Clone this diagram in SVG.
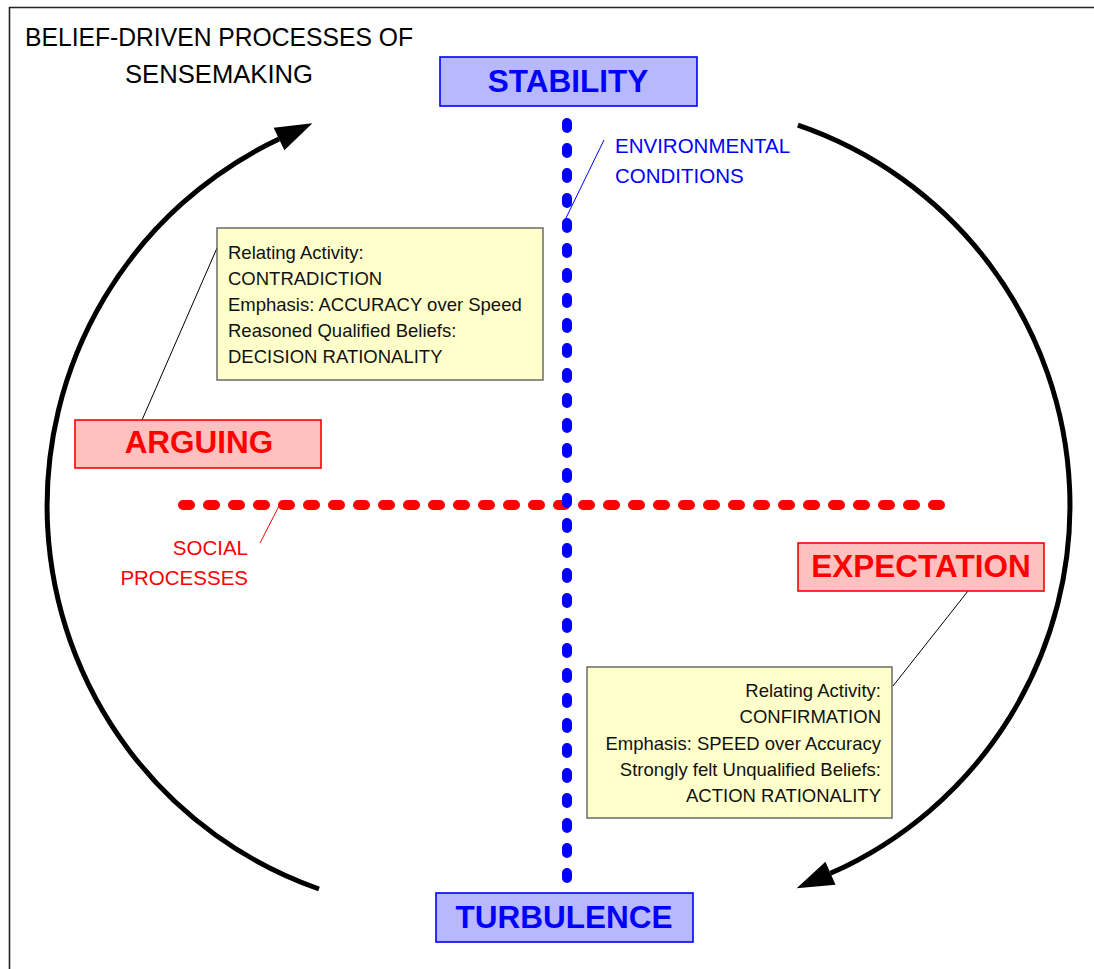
<svg xmlns="http://www.w3.org/2000/svg" width="1094" height="969" viewBox="0 0 1094 969">
  <style>
    text { font-family: "Liberation Sans", Arial, sans-serif; }
    .frame { fill: none; stroke: #222; stroke-width: 1.6; }
    .axisBox { fill: #b8b8ff; stroke: #0000ff; stroke-width: 1.6; }
    .axisText { fill: #0000ff; font-size: 31.5px; font-weight: bold; text-anchor: middle; }
    .modeBox { fill: #ffc0c0; stroke: #ff0000; stroke-width: 1.6; }
    .modeText { fill: #ff0000; font-size: 31.5px; font-weight: bold; text-anchor: middle; }
    .note { fill: #ffffcc; stroke: #555; stroke-width: 1.3; }
    .noteText { fill: #111; font-size: 18.5px; }
    .cycle { fill: none; stroke: #000; stroke-width: 5; }
    .leader { fill: none; stroke: #000; stroke-width: 1; }
  </style>
  <defs>
    <marker id="head" markerUnits="userSpaceOnUse" markerWidth="40" markerHeight="28" refX="0" refY="12.5" orient="auto" overflow="visible">
      <path d="M0,0 L37,12.5 L0,25 z" fill="#000"/>
    </marker>
  </defs>

  <rect width="1094" height="969" fill="#fff"/>
  <path class="frame" d="M9.5,969 V7.5 H1094"/>

  <g id="title">
    <text x="219" y="46" font-size="26.5" text-anchor="middle" fill="#000" textLength="388" lengthAdjust="spacingAndGlyphs">BELIEF-DRIVEN PROCESSES OF</text>
    <text x="219" y="83" font-size="26.5" text-anchor="middle" fill="#000" textLength="188" lengthAdjust="spacingAndGlyphs">SENSEMAKING</text>
  </g>

  <!-- axes: social processes (horizontal) and environmental conditions (vertical) -->
  <g id="axes">
    <path d="M183,505 H940" fill="none" stroke="#ff0000" stroke-width="10" stroke-linecap="round" stroke-dasharray="7 18"/>
    <path d="M567,123 V878" fill="none" stroke="#0000ff" stroke-width="10" stroke-linecap="round" stroke-dasharray="5 20"/>
  </g>

  <g id="connectors">
    <!-- cycle arcs -->
    <path class="cycle" d="M319,889 A406,406 0 0 1 279,139" marker-end="url(#head)"/>
    <path class="cycle" d="M797.9,125.2 A402,402 0 0 1 830.5,873.3" marker-end="url(#head)"/>
    <!-- label leaders -->
    <line x1="604" y1="140" x2="566" y2="218" stroke="#0000ff" stroke-width="1"/>
    <line x1="260" y1="543" x2="279" y2="506" stroke="#ff0000" stroke-width="1"/>
    <line class="leader" x1="142" y1="420" x2="217" y2="248"/>
    <line class="leader" x1="968" y1="591" x2="893" y2="686"/>
  </g>

  <g id="stability">
    <rect class="axisBox" x="440" y="57" width="257" height="49"/>
    <text class="axisText" x="568" y="92">STABILITY</text>
  </g>

  <g id="turbulence">
    <rect class="axisBox" x="436" y="893" width="257" height="49"/>
    <text class="axisText" x="564" y="928">TURBULENCE</text>
  </g>

  <g id="arguing">
    <rect class="modeBox" x="75" y="420" width="246" height="48"/>
    <text class="modeText" x="199" y="453">ARGUING</text>
  </g>

  <g id="expectation">
    <rect class="modeBox" x="798" y="543" width="246" height="48"/>
    <text class="modeText" x="921" y="577">EXPECTATION</text>
  </g>

  <g id="environmental-label">
    <text x="615" y="153" font-size="20.5" fill="#0000ff">ENVIRONMENTAL</text>
    <text x="615" y="183" font-size="20.5" fill="#0000ff">CONDITIONS</text>
  </g>

  <g id="social-label">
    <text x="248" y="555" font-size="20.5" fill="#ff0000" text-anchor="end">SOCIAL</text>
    <text x="248" y="585" font-size="20.5" fill="#ff0000" text-anchor="end">PROCESSES</text>
  </g>

  <g id="arguing-note">
    <rect class="note" x="217" y="228" width="326" height="152"/>
    <text class="noteText" x="228" y="259">Relating Activity:</text>
    <text class="noteText" x="228" y="285">CONTRADICTION</text>
    <text class="noteText" x="228" y="311">Emphasis: ACCURACY over Speed</text>
    <text class="noteText" x="228" y="337">Reasoned Qualified Beliefs:</text>
    <text class="noteText" x="228" y="363">DECISION RATIONALITY</text>
  </g>

  <g id="expectation-note">
    <rect class="note" x="587" y="667" width="305" height="151"/>
    <text class="noteText" x="881" y="697" text-anchor="end">Relating Activity:</text>
    <text class="noteText" x="881" y="723" text-anchor="end">CONFIRMATION</text>
    <text class="noteText" x="881" y="750" text-anchor="end">Emphasis: SPEED over Accuracy</text>
    <text class="noteText" x="881" y="776" text-anchor="end">Strongly felt Unqualified Beliefs:</text>
    <text class="noteText" x="881" y="802" text-anchor="end">ACTION RATIONALITY</text>
  </g>
</svg>
